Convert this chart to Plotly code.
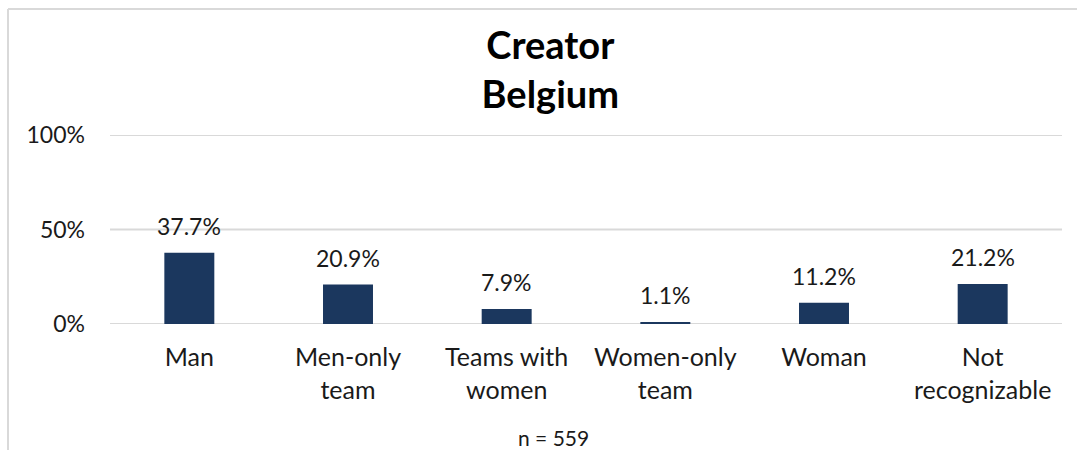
import plotly.graph_objects as go

categories = ["Man", "Men-only<br>team", "Teams with<br>women", "Women-only<br>team", "Woman", "Not<br>recognizable"]
shares = [37.7, 20.9, 7.9, 1.1, 11.2, 21.2]
y_ticks = [0, 50, 100]
y_tick_labels = ["0%", "50%", "100%"]
sample_note = "n = 559"

FONT = "Lato, Carlito, Calibri, sans-serif"
TEXT = "#1a1a1a"
GRID = "#d9d9d9"

fig = go.Figure(
    go.Bar(
        x=categories,
        y=shares,
        marker=dict(color="#1b375e", line=dict(width=0)),
        cliponaxis=False,
        width=0.315,
    )
)

# value labels sitting above each bar
for cat, v in zip(categories, shares):
    fig.add_annotation(
        x=cat, y=v, xref="x", yref="y",
        text=f"{v:.1f}%",
        showarrow=False,
        xanchor="center", yanchor="bottom",
        yshift=11,
        font=dict(family=FONT, size=23, color=TEXT),
    )

fig.update_layout(
    width=1077,
    height=450,
    margin=dict(l=110, r=15, t=135, b=126),
    paper_bgcolor="white",
    plot_bgcolor="white",
    showlegend=False,
    title=dict(
        text="<b>Creator</b><br><b>Belgium</b>",
        x=0.511,
        xanchor="center",
        y=0.87,
        yanchor="middle",
        font=dict(family=FONT, size=38, color="#000000"),
    ),
    font=dict(family=FONT, size=23, color=TEXT),
)

fig.update_xaxes(
    showgrid=False,
    showline=False,
    zeroline=False,
    ticks="",
    tickfont=dict(family=FONT, size=25, color=TEXT),
    ticklabelstandoff=16,
)

fig.update_yaxes(
    range=[0, 100],
    tickvals=y_ticks,
    ticktext=y_tick_labels,
    showgrid=False,
    zeroline=False,
    showline=False,
    ticks="",
    tickfont=dict(family=FONT, size=23, color=TEXT),
    ticklabelstandoff=24,
)

# horizontal gridlines at each tick value
for v in y_ticks:
    fig.add_shape(type="line", xref="paper", yref="y", layer="below",
                  x0=0, x1=1, y0=v, y1=v,
                  line=dict(color=GRID, width=2))

# chart frame: left and top edges
fig.add_shape(type="line", xref="paper", yref="paper",
              x0=(8 - 110) / 952, x1=(8 - 110) / 952,
              y0=(324 - 450) / 189, y1=(324 - 9) / 189,
              line=dict(color=GRID, width=2))
fig.add_shape(type="line", xref="paper", yref="paper",
              x0=(8 - 110) / 952, x1=(1077 - 110) / 952,
              y0=(324 - 9) / 189, y1=(324 - 9) / 189,
              line=dict(color=GRID, width=2))

fig.add_annotation(
    text=sample_note,
    xref="paper", yref="paper",
    x=(553 - 110) / 952, y=(324 - 437) / 189,
    xanchor="center", yanchor="middle",
    showarrow=False,
    font=dict(family=FONT, size=21, color=TEXT),
)

fig.write_html("out.html")
